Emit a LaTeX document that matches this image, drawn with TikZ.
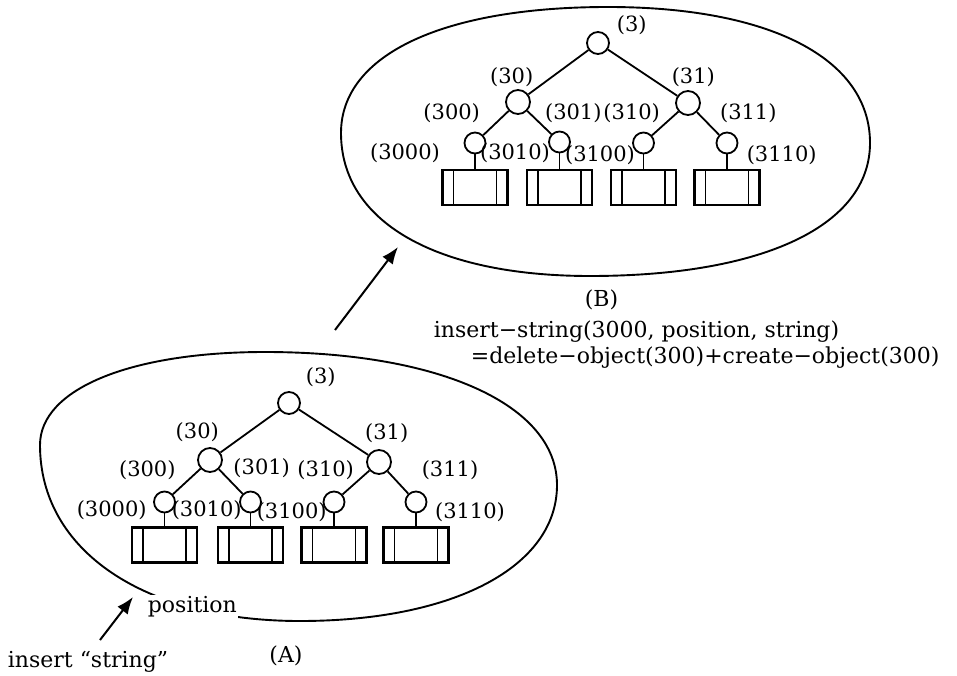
\documentclass[tikz,border=0pt]{standalone}
\usepackage{fontspec}
\setmainfont{DejaVu Serif}
\usetikzlibrary{arrows.meta}
\begin{document}
\begin{tikzpicture}[x=1pt,y=-1pt,
  line width=1.8pt,
  tn/.style={circle, draw, line width=1.8pt, minimum size=#1, inner sep=0pt},
  leafbox/.style={draw, line width=2.1pt, minimum width=65pt, minimum height=35pt,
    inner sep=0pt,
    path picture={
      \draw[line width=1.9pt]
        ([xshift=11pt]path picture bounding box.north west) --
        ([xshift=11pt]path picture bounding box.south west)
        ([xshift=-11pt]path picture bounding box.north east) --
        ([xshift=-11pt]path picture bounding box.south east);}},
  link/.style={line width=1.8pt},
  lbl/.style={font=\fontsize{21}{21}\selectfont, inner sep=0pt},
  txt/.style={font=\fontsize{22}{26}\selectfont, inner sep=0pt},
  arr/.style={line width=2pt, -{Latex[length=17pt,width=13pt]}}
]
\useasboundingbox (0,0) rectangle (957,676);

% ---------- outline of state (B) ----------
\draw[line width=1.9pt]
  (341,133) .. controls (341,54.9) and (442.5,7) .. (608,7)
            .. controls (770.4,7) and (870,58.7) .. (870,143)
            .. controls (870,225.5) and (763.6,276) .. (590,276)
            .. controls (435.6,276) and (341,221.7) .. cycle;

% ---------- outline of state (A) ----------
\draw[line width=1.9pt]
  (40,445) .. controls (40,389.2) and (130,352) .. (265,352)
           .. controls (440.2,352) and (557,405.2) .. (557,485)
           .. controls (557,566.6) and (454.2,621) .. (300,621)
           .. controls (144,621) and (40,550.6) .. cycle;

% ---------- tree of state (B) ----------
\node[tn=22pt] (B0)   at (598,43)  {};
\node[tn=24pt] (B30)  at (518,102) {};
\node[tn=24pt] (B31)  at (688,103) {};
\node[tn=21pt] (B300) at (475,143) {};
\node[tn=21pt] (B301) at (559.5,142) {};
\node[tn=21pt] (B310) at (643.5,143) {};
\node[tn=21pt] (B311) at (727,143) {};
\node[leafbox] (Bb1) at (475,187.5) {};
\node[leafbox] (Bb2) at (559.5,187.5) {};
\node[leafbox] (Bb3) at (643.5,187.5) {};
\node[leafbox] (Bb4) at (727,187.5) {};
\draw[link] (B0) -- (B30) (B0) -- (B31)
            (B30) -- (B300) (B30) -- (B301)
            (B31) -- (B310) (B31) -- (B311);
\draw[link] (B300) -- (Bb1) (B301) -- (Bb2) (B310) -- (Bb3) (B311) -- (Bb4);
\node[lbl] (Bt3)    at (631.7,25)    {(3)};
\node[lbl] (Bt30)   at (511.7,76.7)  {(30)};
\node[lbl] (Bt31)   at (693.3,76.7)  {(31)};
\node[lbl] (Bt300)  at (451.7,113.3) {(300)};
\node[lbl] (Bt301)  at (573.3,113.3) {(301)};
\node[lbl] (Bt310)  at (631.7,113.3) {(310)};
\node[lbl] (Bt311)  at (748.3,113.3) {(311)};
\node[lbl] (Bt3000) at (405,153.3)   {(3000)};
\node[lbl] (Bt3010) at (515,153.3)   {(3010)};
\node[lbl] (Bt3100) at (600,155)     {(3100)};
\node[lbl] (Bt3110) at (781.7,155)   {(3110)};

% ---------- tree of state (A) ----------
\node[tn=22pt] (A0)   at (289,403) {};
\node[tn=24pt] (A30)  at (210,460) {};
\node[tn=24pt] (A31)  at (379,462) {};
\node[tn=21pt] (A300) at (164.5,502) {};
\node[tn=21pt] (A301) at (250.5,502) {};
\node[tn=21pt] (A310) at (334,502) {};
\node[tn=21pt] (A311) at (416,502) {};
\node[leafbox] (Ab1) at (164.5,545) {};
\node[leafbox] (Ab2) at (250.5,545) {};
\node[leafbox] (Ab3) at (334,545) {};
\node[leafbox] (Ab4) at (416,545) {};
\draw[link] (A0) -- (A30) (A0) -- (A31)
            (A30) -- (A300) (A30) -- (A301)
            (A31) -- (A310) (A31) -- (A311);
\draw[link] (A300) -- (Ab1) (A301) -- (Ab2) (A310) -- (Ab3) (A311) -- (Ab4);
\node[lbl] (At3)    at (320.7,376.7) {(3)};
\node[lbl] (At30)   at (197.3,431.7) {(30)};
\node[lbl] (At31)   at (386.7,433.3) {(31)};
\node[lbl] (At300)  at (147.3,470)   {(300)};
\node[lbl] (At301)  at (261.7,468.3) {(301)};
\node[lbl] (At310)  at (325.7,470)   {(310)};
\node[lbl] (At311)  at (450,470)     {(311)};
\node[lbl] (At3000) at (111.7,510)   {(3000)};
\node[lbl] (At3010) at (206.7,510)   {(3010)};
\node[lbl] (At3100) at (291.7,511.7) {(3100)};
\node[lbl] (At3110) at (470,511.7)   {(3110)};

% ---------- captions and formulas ----------
\node[txt] (capB) at (601.5,300) {(B)};
\node[txt, anchor=base west] (eq1) at (433,337) {insert−string(3000, position, string)};
\node[txt, anchor=base west] (eq2) at (470,363) {=delete−object(300)+create−object(300)};
\node[txt, anchor=base west, fill=white, inner sep=1pt] (pos) at (146,612) {position};
\node[txt] (capA) at (286,656) {(A)};
\node[txt, anchor=base west] (ins) at (7,667) {insert “string”};

% ---------- arrows ----------
\coordinate (stepfrom) at (335,330);
\coordinate (stepto)   at (398,247);
\coordinate (insfrom)  at (100,640);
\coordinate (insto)    at (133,597);
\draw[arr] (stepfrom) -- (stepto);
\draw[arr] (insfrom) -- (insto);
\end{tikzpicture}
\end{document}
